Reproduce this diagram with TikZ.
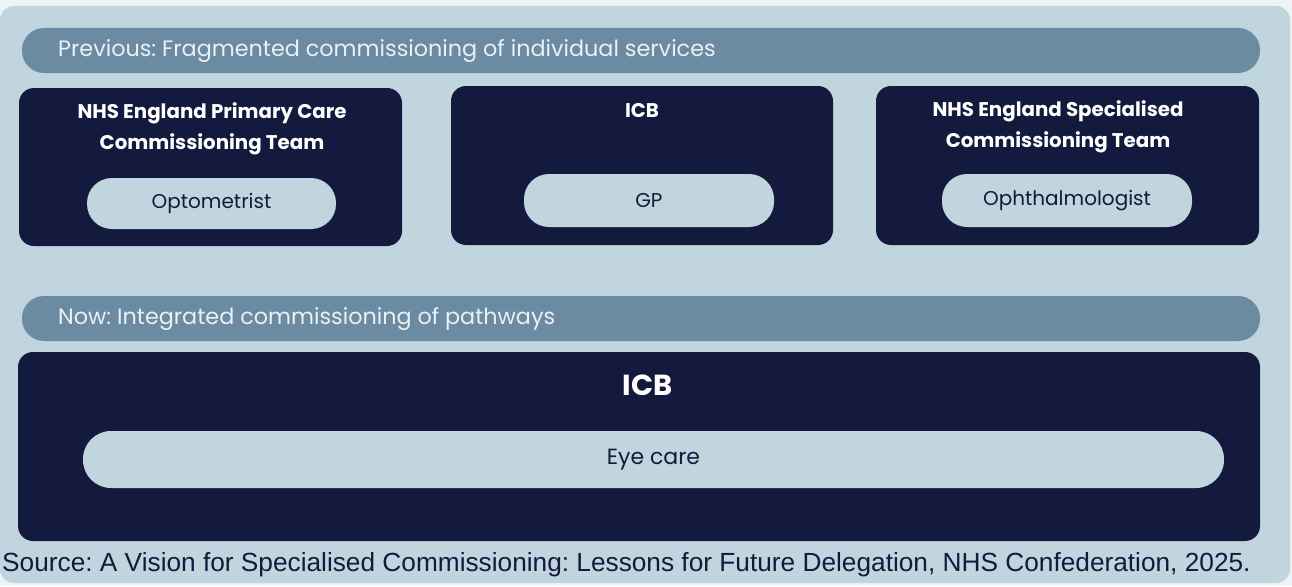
\documentclass[tikz,border=0pt]{standalone}
\usepackage{fontspec}
\setmainfont{Poppins}
\newfontfamily\srcfont{Liberation Sans}
\frenchspacing
\definecolor{outerbg}{HTML}{EEF3F5}
\definecolor{panel}{HTML}{C1D5DF}
\definecolor{hdr}{HTML}{6B8BA3}
\definecolor{dark}{HTML}{141A3D}
\definecolor{hdrtext}{HTML}{EAF0F3}
\tikzset{
  darkbox/.style={rectangle, fill=dark, rounded corners=15pt, inner sep=0pt},
  pill/.style={rectangle, fill=panel, rounded corners=25pt, inner sep=0pt, text=dark, font=\fontsize{20}{24}\selectfont},
  hdrbar/.style={rectangle, fill=hdr, rounded corners=22pt, inner sep=0pt},
  hdrlabel/.style={anchor=west, text=hdrtext, inner sep=0pt, font=\fontsize{22.3}{26}\selectfont},
  boxtitle/.style={text=white, align=center, inner sep=0pt, font=\fontsize{19.8}{31}\selectfont\bfseries},
}
\begin{document}
\begin{tikzpicture}[x=1pt,y=-1pt]
\useasboundingbox (0,0) rectangle (1292,586);
\fill[outerbg] (0,0) rectangle (1292,586);
\fill[panel, rounded corners=14pt] (0,6) rectangle (1290,583);
% headers
\node[hdrbar, minimum width=1238, minimum height=45] (h1) at (641,50.5) {};
\node[hdrlabel] (h1t) at (58,51) {Previous: Fragmented commissioning of individual services};
\node[hdrbar, minimum width=1238, minimum height=45] (h2) at (641,318.5) {};
\node[hdrlabel] (h2t) at (58,319) {Now: Integrated commissioning of pathways};
% row 1 boxes
\node[darkbox, minimum width=383, minimum height=158] (b1) at (210.5,167) {};
\node[darkbox, minimum width=382, minimum height=159] (b2) at (642,165.5) {};
\node[darkbox, minimum width=383, minimum height=159] (b3) at (1067.5,165.5) {};
\node[boxtitle] (t1) at (212,129) {NHS England Primary Care\\Commissioning Team};
\node[boxtitle] (t2) at (642,111) {ICB};
\node[boxtitle] (t3) at (1058,127) {NHS England Specialised\\Commissioning Team};
\node[pill, minimum width=249, minimum height=51] (p1) at (211.5,203.5) {Optometrist};
\node[pill, minimum width=250, minimum height=53] (p2) at (649,200.5) {GP};
\node[pill, minimum width=250, minimum height=53] (p3) at (1067,200.5) {Ophthalmologist};
% bottom
\node[darkbox, minimum width=1242, minimum height=189] (b4) at (639,446.5) {};
\node[text=white, inner sep=0pt, font=\fontsize{29}{34}\selectfont\bfseries] (t4) at (647.5,385) {ICB};
\node[pill, rounded corners=28pt, minimum width=1141, minimum height=57, font=\fontsize{22}{26}\selectfont] (p4) at (653.5,459.5) {Eye care};
% source
\node[anchor=west, inner sep=0pt, text=dark, font=\srcfont\fontsize{26.25}{30}\selectfont] (src) at (2,565) {Source: A Vision for Specialised Commissioning: Lessons for Future Delegation, NHS Confederation, 2025.};
\end{tikzpicture}
\end{document}
